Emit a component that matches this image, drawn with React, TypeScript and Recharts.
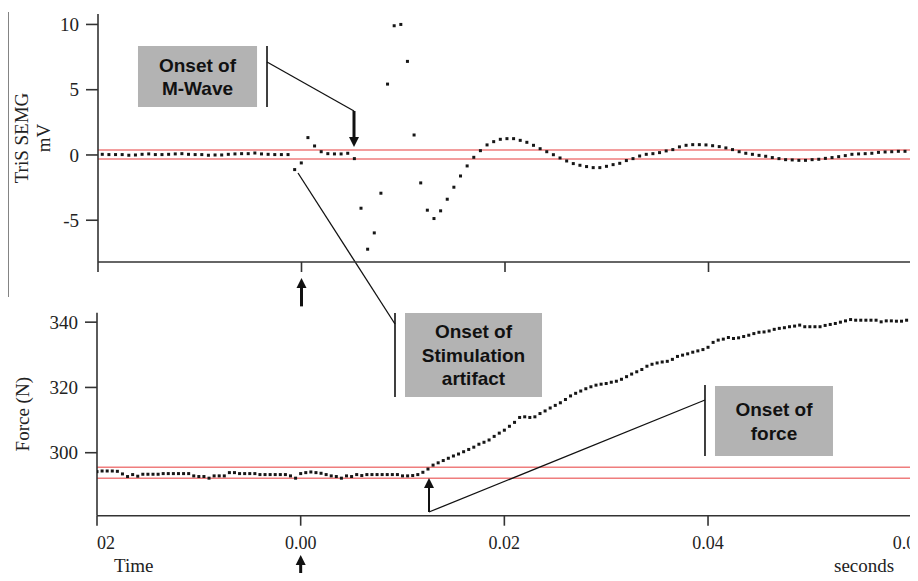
import React from 'react';
import {
  ScatterChart,
  Scatter,
  XAxis,
  YAxis,
  ReferenceLine,
  ReferenceArea,
  ReferenceDot,
} from 'recharts';

// ---------------- data ----------------
const X_TICKS = [-0.02, 0, 0.02, 0.04, 0.06];
const X_TICK_LABELS = ['02', '0.00', '0.02', '0.04', '0.0'];
const EMG_TICKS = [-5, 0, 5, 10];
const FORCE_TICKS = [300, 320, 340];

const EMG_T0 = -0.01958; // s, first EMG sample
const EMG_DT = 0.000652; // s, EMG sample interval
const EMG_VALUES = [
  0.05, 0.03, 0.03, 0.03, -0.02, 0, 0.05, 0.08, 0.03, 0.03, 0.05, 0.08, 0.1, 0.05, 0.03, 0.03, -0.02, 0, 0, 0.05,
  0.08, 0.1, 0.1, 0.15, 0.08, 0.05, 0.03, 0.03, 0.03,
  -1.12, -0.61, 1.33, 0.69, 0.25, 0.1, 0.08, 0.08, 0.13, -0.28, -4.08, -7.22, -5.97, -2.93, 5.43, 9.9, 10.0, 7.17,
  1.53, -2.14, -4.23, -4.87, -4.28, -3.39, -2.47, -1.61,
  -0.84, -0.18, 0.33, 0.77, 1.02, 1.2, 1.25, 1.25, 1.12, 0.97, 0.74, 0.48, 0.25, 0.02, -0.23, -0.46, -0.66, -0.79,
  -0.89, -0.97, -0.97, -0.87, -0.74, -0.64, -0.43, -0.28, -0.08, 0.05, 0.1, 0.18, 0.31, 0.41, 0.62,
  0.74, 0.79, 0.79, 0.77, 0.71, 0.64, 0.54, 0.41, 0.25, 0.13, 0.05, -0.03, -0.1, -0.2, -0.28, -0.36, -0.38, -0.41,
  -0.41, -0.36, -0.33, -0.26, -0.2, -0.13, -0.05, 0.05, 0.08, 0.1, 0.13, 0.2, 0.23, 0.25, 0.28, 0.28, 0.31,
];

const FORCE_T0 = -0.02;
const FORCE_DT = 0.0005;
const FORCE_VALUES = [
  294.2, 294.4, 294.4, 294.4, 294.3, 293.5, 292.7, 293.3, 292.8, 293.4,
  293.4, 293.4, 293.4, 293.6, 293.6, 293.6, 293.6, 293.6, 293.6, 292.9,
  292.7, 292.7, 292.2, 292.9, 292.9, 292.9, 293.9, 293.9, 293.6, 293.6,
  293.6, 293.6, 293.3, 293.3, 293.3, 293.3, 293.3, 293.3, 292.9, 292.2,
  293.6, 293.9, 294.1, 293.9, 293.7, 293.3, 292.9, 292.7, 292.2, 292.9,
  292.7, 293.3, 293.0, 293.3, 293.3, 293.3, 293.3, 293.3, 293.3, 293.3,
  292.9, 292.9, 293.0, 293.3, 294.0, 295.0, 296.2, 296.9, 297.6, 298.3,
  299.0, 299.6, 300.3, 301.0, 301.7, 302.6, 303.2, 303.9, 305.0, 306.0,
  306.9, 308.1, 309.3, 310.8, 311.0, 310.8, 311.0, 312.0, 312.8, 313.7,
  314.5, 315.3, 316.3, 317.4, 318.2, 318.9, 319.6, 320.2, 320.7, 321.0,
  321.2, 321.6, 321.9, 322.5, 323.3, 324.1, 324.8, 325.5, 326.5, 327.1,
  327.5, 327.8, 328.0, 328.6, 329.5, 329.9, 330.3, 330.8, 331.2, 331.6,
  332.3, 333.8, 334.5, 334.8, 335.3, 335.0, 335.2, 335.6, 336.0, 336.5,
  336.9, 337.0, 337.3, 337.8, 338.1, 338.3, 338.6, 338.8, 339.1, 338.6,
  338.6, 338.6, 338.6, 339.0, 339.3, 339.6, 340.0, 340.4, 340.8, 340.6,
  340.6, 340.6, 340.6, 340.6, 340.1, 340.4, 340.4, 340.3, 340.3, 340.6,
  340.8,
];

const EMG_THRESHOLDS = [0.381, -0.309];
const FORCE_THRESHOLDS = [295.53, 292.16];

const emgData = EMG_VALUES.map((v, i) => ({ t: EMG_T0 + i * EMG_DT, v }));
const forceData = FORCE_VALUES.map((v, i) => ({ t: FORCE_T0 + i * FORCE_DT, v }));

// ---------------- styles ----------------
const SERIF = '"Liberation Serif", "Times New Roman", serif';
const SANS = '"Liberation Sans", Arial, sans-serif';
const AXIS = '#333';
const INK = '#111';
const BOX = '#b3b3b3';
const RED = '#ef7d7d';

const Square = (props: any) => {
  const { cx, cy } = props;
  if (cx == null || cy == null) return <g />;
  return <rect x={cx - 1.5} y={cy - 1.5} width={3} height={3} fill="#161616" />;
};

const arrowHead = (dir: 'up' | 'down', w: number, h: number) => (props: any) => {
  const { cx, cy } = props;
  if (cx == null || cy == null) return <g />;
  const by = dir === 'down' ? cy - h : cy + h;
  return <polygon points={`${cx - w / 2},${by} ${cx + w / 2},${by} ${cx},${cy}`} fill={INK} />;
};

const boxLabel = (lines: string[]) => (props: any) => {
  const vb = props.viewBox || {};
  const cx = vb.x + vb.width / 2;
  const cy = vb.y + vb.height / 2;
  const lh = 23.5;
  const start = cy - ((lines.length - 1) * lh) / 2;
  return (
    <text fontFamily={SANS} fontWeight="bold" fontSize={19} fill={INK} textAnchor="middle">
      {lines.map((l, i) => (
        <tspan key={i} x={cx} y={start + i * lh} dy="0.36em">
          {l}
        </tspan>
      ))}
    </text>
  );
};

const emgAxisLabel = (props: any) => {
  const vb = props.viewBox || {};
  const cy = vb.y + vb.height / 2;
  const x1 = vb.x - 17;
  const x2 = vb.x + 5;
  return (
    <g fontFamily={SERIF} fontSize={19} fill="#222">
      <text x={x1} y={cy} textAnchor="middle" dominantBaseline="central" transform={`rotate(-90, ${x1}, ${cy})`}>
        TriS SEMG
      </text>
      <text x={x2} y={cy} textAnchor="middle" dominantBaseline="central" transform={`rotate(-90, ${x2}, ${cy})`}>
        mV
      </text>
    </g>
  );
};

const forceAxisLabel = (props: any) => {
  const vb = props.viewBox || {};
  const cy = vb.y + vb.height / 2;
  const x1 = vb.x - 14;
  return (
    <text
      x={x1}
      y={cy}
      fontFamily={SERIF}
      fontSize={19}
      fill="#222"
      textAnchor="middle"
      dominantBaseline="central"
      transform={`rotate(-90, ${x1}, ${cy})`}
    >
      Force (N)
    </text>
  );
};

const timeAxisLabel = (props: any) => {
  const vb = props.viewBox || {};
  const y = vb.y + 56.5;
  return (
    <g fontFamily={SERIF} fontSize={19} fill="#222">
      <text x={vb.x + 17} y={y} textAnchor="start">
        Time
      </text>
      <text x={vb.x + vb.width - 17.5} y={y} textAnchor="end">
        seconds
      </text>
    </g>
  );
};

const BottomTick = (props: any) => {
  const { x, y, payload } = props;
  const v = payload.value as number;
  const idx = X_TICKS.findIndex((t) => Math.abs(t - v) < 1e-9);
  const text = idx >= 0 ? X_TICK_LABELS[idx] : String(v);
  const first = idx === 0;
  const last = idx === X_TICKS.length - 1;
  return (
    <text
      x={last ? x - 19 : x}
      y={y}
      dy="0.71em"
      textAnchor={first || last ? 'start' : 'middle'}
      fontFamily={SERIF}
      fontSize={18}
      fill="#222"
    >
      {text}
    </text>
  );
};

const YTick = (props: any) => {
  const { x, y, payload } = props;
  return (
    <text x={x} y={y} dy="0.35em" textAnchor="end" fontFamily={SERIF} fontSize={19} fill="#222">
      {String(payload.value)}
    </text>
  );
};

const NoTick = () => <g />;

const seg = (x1: number, y1: number, x2: number, y2: number, w: number, color = INK) => (
  <ReferenceLine
    segment={[
      { x: x1, y: y1 },
      { x: x2, y: y2 },
    ]}
    stroke={color}
    strokeWidth={w}
    ifOverflow="visible"
  />
);

export default function App() {
  return (
    <div style={{ position: 'relative', width: 918, height: 581, margin: '-8px', background: '#fff', overflow: 'hidden' }}>
      {/* Top panel: TriS SEMG */}
      <div style={{ position: 'absolute', left: 0, top: 0 }}>
        <ScatterChart width={918} height={581} margin={{ top: 14, right: 6, bottom: 289, left: 38 }}>
          <XAxis
            type="number"
            dataKey="t"
            domain={[-0.02, 0.06]}
            ticks={X_TICKS}
            interval={0}
            allowDataOverflow
            height={30}
            tickSize={10}
            tick={NoTick}
            axisLine={{ stroke: AXIS, strokeWidth: 1.6 }}
            tickLine={{ stroke: AXIS, strokeWidth: 1.6 }}
          />
          <YAxis
            type="number"
            dataKey="v"
            domain={[-8.2, 10.8]}
            ticks={EMG_TICKS}
            interval={0}
            allowDataOverflow
            width={60}
            tickSize={12}
            tickMargin={7}
            tick={YTick}
            axisLine={{ stroke: AXIS, strokeWidth: 1.6 }}
            tickLine={{ stroke: AXIS, strokeWidth: 1.6 }}
            label={emgAxisLabel}
          />
          {EMG_THRESHOLDS.map((y, i) => (
            <ReferenceLine
              key={`et${i}`}
              segment={[
                { x: -0.02, y },
                { x: 0.0606, y },
              ]}
              stroke={RED}
              strokeWidth={1.4}
              ifOverflow="visible"
            />
          ))}
          {/* left border */}
          {seg(-0.028845, 10.953, -0.028845, -10.881, 1.2, AXIS)}
          {/* Onset of M-Wave */}
          <ReferenceArea
            x1={-0.01607}
            x2={-0.00437}
            y1={3.675}
            y2={8.35}
            fill={BOX}
            fillOpacity={1}
            stroke="none"
            ifOverflow="visible"
            label={boxLabel(['Onset of', 'M-Wave'])}
          />
          {seg(-0.00339, 8.35, -0.00339, 3.675, 1.6)}
          {seg(-0.00339, 7.123, 0.00516, 3.369, 1.3)}
          {seg(0.00516, 3.369, 0.00516, 1.3, 3)}
          <ReferenceDot x={0.00516} y={0.611} ifOverflow="visible" shape={arrowHead('down', 10, 10)} />
          {/* Stimulation artifact leader */}
          {seg(-0.000344, -1.381, 0.00919, -12.95, 1.3)}
          {/* stimulus arrow below top axis */}
          {seg(0, -11.6, 0, -10.1, 3)}
          <ReferenceDot x={0} y={-9.425} ifOverflow="visible" shape={arrowHead('up', 10, 10)} />
          <Scatter data={emgData} dataKey="v" shape={Square} isAnimationActive={false} />
        </ScatterChart>
      </div>

      {/* Bottom panel: Force */}
      <div style={{ position: 'absolute', left: 0, top: 290 }}>
        <ScatterChart width={918} height={291} margin={{ top: 22.7, right: 6.3, bottom: 25.3, left: 37 }}>
          <XAxis
            type="number"
            dataKey="t"
            domain={[-0.02, 0.06]}
            ticks={X_TICKS}
            interval={0}
            allowDataOverflow
            height={40}
            tickSize={10}
            tickMargin={11}
            tick={BottomTick}
            axisLine={{ stroke: AXIS, strokeWidth: 1.6 }}
            tickLine={{ stroke: AXIS, strokeWidth: 1.6 }}
            label={timeAxisLabel}
          />
          <YAxis
            type="number"
            dataKey="v"
            domain={[280.7, 342.9]}
            ticks={FORCE_TICKS}
            interval={0}
            allowDataOverflow
            width={60}
            tickSize={12}
            tickMargin={7}
            tick={YTick}
            axisLine={{ stroke: AXIS, strokeWidth: 1.6 }}
            tickLine={{ stroke: AXIS, strokeWidth: 1.6 }}
            label={forceAxisLabel}
          />
          {FORCE_THRESHOLDS.map((y, i) => (
            <ReferenceLine
              key={`ft${i}`}
              segment={[
                { x: -0.02, y },
                { x: 0.0606, y },
              ]}
              stroke={RED}
              strokeWidth={1.4}
              ifOverflow="visible"
            />
          ))}
          {/* Onset of Stimulation artifact */}
          <ReferenceArea
            x1={0.010244}
            x2={0.023696}
            y1={317.07}
            y2={342.81}
            fill={BOX}
            fillOpacity={1}
            stroke="none"
            ifOverflow="visible"
            label={boxLabel(['Onset of', 'Stimulation', 'artifact'])}
          />
          {seg(0.009262, 342.81, 0.009262, 317.07, 1.6)}
          {/* Onset of force */}
          <ReferenceArea
            x1={0.040683}
            x2={0.05227}
            y1={298.99}
            y2={320.44}
            fill={BOX}
            fillOpacity={1}
            stroke="none"
            ifOverflow="visible"
            label={boxLabel(['Onset of', 'force'])}
          />
          {seg(0.039702, 320.75, 0.039702, 298.99, 1.6)}
          {seg(0.0126, 281.83, 0.039702, 316.15, 1.3)}
          {seg(0.0126, 281.83, 0.0126, 289.4, 2)}
          <ReferenceDot x={0.0126} y={292.25} ifOverflow="visible" shape={arrowHead('up', 10, 10)} />
          {/* stimulus arrow below bottom axis */}
          {seg(0, 260.5, 0, 265.8, 3)}
          <ReferenceDot x={0} y={268.66} ifOverflow="visible" shape={arrowHead('up', 10, 10)} />
          <Scatter data={forceData} dataKey="v" shape={Square} isAnimationActive={false} />
        </ScatterChart>
      </div>
    </div>
  );
}
